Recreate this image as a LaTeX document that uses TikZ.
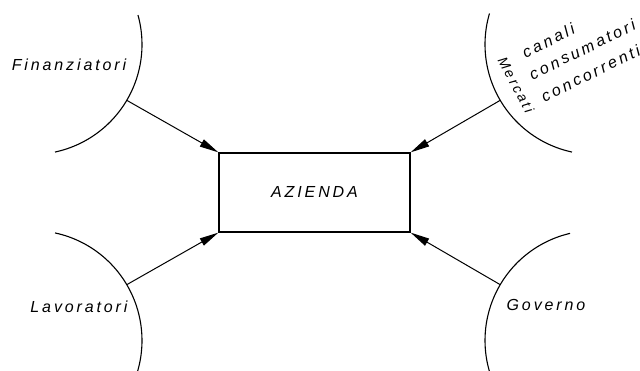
\documentclass[tikz,border=0pt]{standalone}
\usepackage{fontspec}
\newfontfamily\lett[LetterSpace=18]{Liberation Sans}
\usetikzlibrary{arrows.meta,calc}
\tikzset{
  ring/.style={line width=1.1pt},
  flow/.style={line width=1.0pt,-{Triangle[length=19pt,width=8pt]}},
  lbl/.style={font=\lett\itshape\fontsize{16}{16}\selectfont, inner sep=0pt},
  firm/.style={draw, line width=1.3pt, minimum width=191pt, minimum height=79pt, inner sep=0pt,
    font=\lett\itshape\fontsize{16}{16}\selectfont}
}
\begin{document}
\begin{tikzpicture}[x=1pt,y=1pt]
\useasboundingbox (0,0) rectangle (640,371);
% arcs
\coordinate (cTL) at (32,326.5);
\coordinate (cBL) at (32,30.5);
\coordinate (cTR) at (595,326.5);
\coordinate (cBR) at (595,30.5);
\draw[ring] ($(cTL)+(15.5:110pt)$) arc[start angle=15.5, end angle=-77.9, radius=110pt];
\draw[ring] ($(cBL)+(77.9:110pt)$) arc[start angle=77.9, end angle=-16.5, radius=110pt];
\draw[ring] ($(cTR)+(163.6:110pt)$) arc[start angle=163.6, end angle=257.9, radius=110pt];
\draw[ring] ($(cBR)+(103.1:110pt)$) arc[start angle=103.1, end angle=196.5, radius=110pt];
% arrow start points on the arcs
\coordinate (pF) at ($(cTL)+(-30.5:110pt)$);
\coordinate (pL) at ($(cBL)+(30.5:110pt)$);
\coordinate (pM) at ($(cTR)+(210.5:110pt)$);
\coordinate (pG) at ($(cBR)+(149.5:110pt)$);
% central box
\node[firm] (az) at (314.5,178.5) {AZIENDA\hspace{20pt}};
% arrows
\draw[flow] (pF) -- (az.north west);
\draw[flow] (pL) -- (az.south west);
\draw[flow] (pM) -- (az.north east);
\draw[flow] (pG) -- (az.south east);
% labels
\node[lbl] (fin) at (69,306) {Finanziatori};
\node[lbl] (lav) at (79,64) {Lavoratori};
\node[lbl] (gov) at (546,66) {Governo};
\node[lbl, font=\lett\itshape\fontsize{14}{14}\selectfont, rotate=-62] (mer) at (516,286) {Mercati};
\node[lbl, anchor=west, rotate=26] (can) at (523,318) {canali};
\node[lbl, anchor=west, rotate=26] (con) at (530,296) {consumatori};
\node[lbl, anchor=west, rotate=26] (cor) at (542,274) {concorrenti};
\end{tikzpicture}
\end{document}
